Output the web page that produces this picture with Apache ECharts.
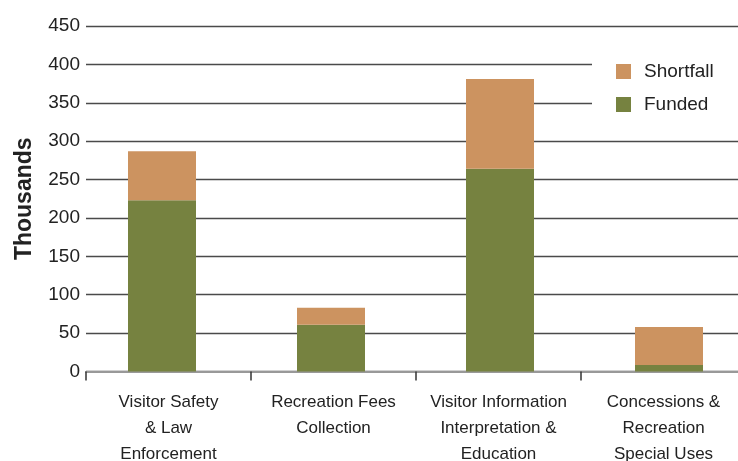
<!DOCTYPE html>
<html>
<head>
<meta charset="utf-8">
<script src="https://cdn.jsdelivr.net/npm/echarts@6/dist/echarts.min.js"></script>
<style>
  html, body { margin: 0; padding: 0; background: #fff; }
  #chart { width: 738px; height: 461px; }
</style>
</head>
<body>
<div id="chart"></div>
<script>
// Recreation program categories and their funding (thousands)
const categories = [
  'Visitor Safety\n& Law\nEnforcement',
  'Recreation Fees\nCollection',
  'Visitor Information\nInterpretation &\nEducation',
  'Concessions &\nRecreation\nSpecial Uses'
];
const funded = [223, 61, 264, 8.5];
const shortfall = [64, 22, 117, 49.5];
const yTicks = { min: 0, max: 450, interval: 50 };

const FONT = '"Liberation Sans", Arial, sans-serif';
const TEXT = '#222';

const chart = echarts.init(document.getElementById('chart'), null, { renderer: 'canvas' });

chart.setOption({
  animation: false,
  backgroundColor: '#fff',
  textStyle: { fontFamily: FONT, color: TEXT },
  legend: {
    data: ['Shortfall', 'Funded'],
    orient: 'vertical',
    left: 592,
    top: 45,
    padding: [17, 40, 20, 24],
    backgroundColor: '#fff',
    itemWidth: 15,
    itemHeight: 15,
    itemGap: 14,
    icon: 'rect',
    textStyle: { fontFamily: FONT, fontSize: 19, color: TEXT, padding: [0, 0, 0, 8] }
  },
  grid: [
    // axes, gridlines and labels; the plot runs past the right edge
    { left: 86, top: 26, width: 660, height: 345.5, containLabel: false, outerBoundsMode: 'none' },
    // bars
    { left: 77.5, top: 26, width: 676, height: 345.5, containLabel: false, outerBoundsMode: 'none' }
  ],
  xAxis: [
    {
      type: 'category',
      gridIndex: 0,
      data: categories,
      boundaryGap: true,
      axisLine: { show: true, lineStyle: { color: '#999', width: 2 } },
      axisTick: { show: true, alignWithLabel: false, interval: 0, length: 9, lineStyle: { color: '#333', width: 1.5 } },
      axisLabel: { interval: 0, margin: 18, fontFamily: FONT, fontSize: 17, lineHeight: 26, color: TEXT }
    },
    {
      type: 'category',
      gridIndex: 1,
      data: categories,
      show: false
    }
  ],
  yAxis: [
    {
      type: 'value',
      gridIndex: 0,
      min: yTicks.min,
      max: yTicks.max,
      interval: yTicks.interval,
      name: 'Thousands',
      nameLocation: 'middle',
      nameGap: 50,
      nameTextStyle: { fontFamily: FONT, fontSize: 23, fontWeight: 'bold', color: TEXT },
      axisLine: { show: false },
      axisTick: { show: false },
      axisLabel: { margin: 6, fontFamily: FONT, fontSize: 19, color: TEXT },
      splitLine: { show: true, lineStyle: { color: '#4a4a4a', width: 1.4 } }
    },
    {
      type: 'value',
      gridIndex: 1,
      min: yTicks.min,
      max: yTicks.max,
      interval: yTicks.interval,
      show: false,
      splitLine: { show: false }
    }
  ],
  series: [
    {
      name: 'Funded',
      type: 'bar',
      stack: 'total',
      xAxisIndex: 1,
      yAxisIndex: 1,
      barWidth: 68,
      data: funded,
      itemStyle: { color: '#768240' }
    },
    {
      name: 'Shortfall',
      type: 'bar',
      stack: 'total',
      xAxisIndex: 1,
      yAxisIndex: 1,
      barWidth: 68,
      data: shortfall,
      itemStyle: { color: '#CC9360' }
    }
  ]
});
</script>
</body>
</html>
